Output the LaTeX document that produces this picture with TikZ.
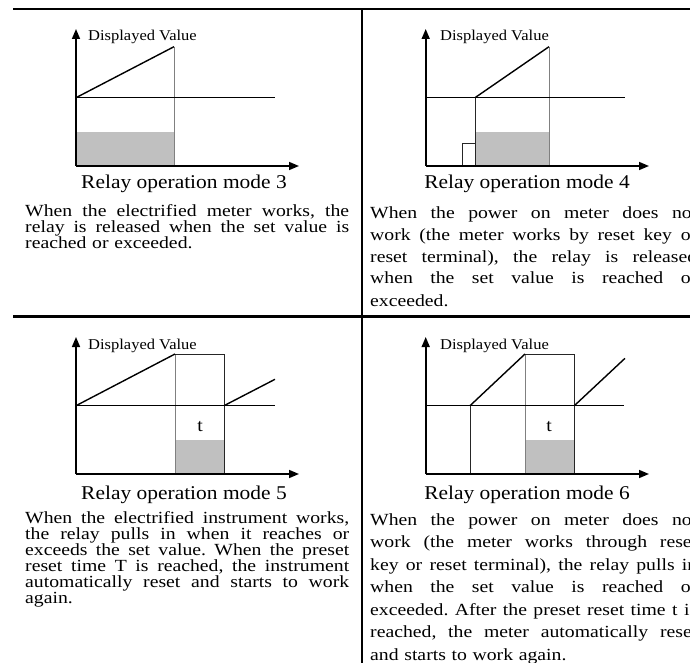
\documentclass[tikz,border=0pt]{standalone}
\usepackage{fontspec}
\setmainfont{Liberation Serif}
\newfontfamily\bodyf{Liberation Serif}[FakeStretch=1.1]
\newfontfamily\textf{Liberation Serif}[FakeStretch=1.16]
\usetikzlibrary{arrows.meta}
\lineskiplimit=-20pt
\newlength\colw
\setlength\colw{324pt}
\newcommand\jline[1]{\leavevmode\hbox to \colw{\frenchspacing\spaceskip=.25em plus 1fil\relax #1}}
\newcommand\lastline[1]{\leavevmode\hbox to \colw{#1\hfil}}
\definecolor{barfill}{HTML}{C0C0C0}
\definecolor{thingray}{HTML}{808080}
\tikzset{
  axis/.style={line width=1.6pt,-{Triangle[length=10pt,width=8pt]}},
  curve/.style={line width=1.4pt},
  thinline/.style={line width=0.9pt,black!85},
  grayline/.style={line width=0.9pt,thingray},
  bar/.style={fill=barfill,draw=none},
  rule/.style={line width=2.4pt},
  ylabel/.style={anchor=west,inner sep=0,font=\bodyf\fontsize{15}{15}\selectfont},
  caption/.style={anchor=base,inner sep=0,font=\bodyf\fontsize{19.5}{20}\selectfont},
  body/.style={anchor=base west,inner sep=0,text width=\colw,align=left,font=\textf\fontsize{17}{16}\selectfont},
  bodyr/.style={body,font=\textf\fontsize{17}{#1}\selectfont,text width=327pt},
  tmark/.style={inner sep=0,font=\bodyf\fontsize{18}{18}\selectfont}
}
\begin{document}
\begin{tikzpicture}[x=1pt,y=-1pt]
\useasboundingbox (0,0) rectangle (690,663);
\clip (0,0) rectangle (690,663);
% table rules
\coordinate (tl) at (13,9); \coordinate (tr) at (690,9);
\coordinate (ml) at (13,316.5); \coordinate (mr) at (690,316.5);
\coordinate (vt) at (362,9); \coordinate (vb) at (362,663);
\draw[rule] (tl) -- (tr);
\draw[rule] (ml) -- (mr);
\draw[rule] (vt) -- (vb);

% ---------- mode 3 ----------
\fill[bar] (76,132) rectangle (174,166);
\coordinate (o3) at (76,166);
\draw[grayline] (174,46.7) -- (174,166);
\draw[curve] (76,97.7) -- (275,97.7);
\draw[curve] (76,97.7) -- (174,46.7);
\draw[axis] (o3) -- (76,29);
\draw[axis] (o3) -- (299,166);
\node[ylabel] (l3) at (88,37) {Displayed Value};
\node[caption] (c3) at (184,189) {Relay operation mode 3};
\node[body] (b3) at (25,216) {\jline{When the electrified meter works, the}\\\jline{relay is released when the set value is}\\\lastline{reached or exceeded.}};

% ---------- mode 4 ----------
\fill[bar] (475,132) rectangle (549,166);
\coordinate (o4) at (425.7,166);
\draw[thinline] (462.3,166) -- (462.3,143.3) -- (475,143.3);
\draw[thinline] (475,97.7) -- (475,166);
\draw[grayline] (549,46.7) -- (549,166);
\draw[curve] (425.7,97.7) -- (625,97.7);
\draw[curve] (475,97.7) -- (549,46.7);
\draw[axis] (o4) -- (425.7,29);
\draw[axis] (o4) -- (649,166);
\node[ylabel] (l4) at (440,37) {Displayed Value};
\node[caption] (c4) at (527,189) {Relay operation mode 4};
\begingroup\setlength\colw{327pt}
\node[bodyr=22] (b4) at (370,218) {\jline{When the power on meter does not}\\\jline{work (the meter works by reset key or}\\\jline{reset terminal), the relay is released}\\\jline{when the set value is reached or}\\\lastline{exceeded.}};
\endgroup

% ---------- mode 5 ----------
\fill[bar] (175,440) rectangle (224,474);
\coordinate (o5) at (76,474);
\draw[grayline] (175,354) -- (175,474);
\draw[thinline] (175,354) -- (224,354) -- (224,474);
\draw[curve] (76,405.7) -- (275,405.7);
\draw[curve] (76,405.7) -- (175,354);
\draw[curve] (224,405.7) -- (275,379.3);
\draw[axis] (o5) -- (76,337);
\draw[axis] (o5) -- (299,474);
\node[tmark] (t5) at (200,427) {t};
\node[ylabel] (l5) at (88,346) {Displayed Value};
\node[caption] (c5) at (184,499) {Relay operation mode 5};
\node[body] (b5) at (25,523) {\jline{When the electrified instrument works,}\\\jline{the relay pulls in when it reaches or}\\\jline{exceeds the set value. When the preset}\\\jline{reset time T is reached, the instrument}\\\jline{automatically reset and starts to work}\\\lastline{again.}};

% ---------- mode 6 ----------
\fill[bar] (525,440) rectangle (574.3,474);
\coordinate (o6) at (425.7,474);
\draw[thinline] (470,405.7) -- (470,474);
\draw[grayline] (525,354) -- (525,474);
\draw[thinline] (525,354) -- (574.3,354) -- (574.3,474);
\draw[curve] (425.7,405.7) -- (624,405.7);
\draw[curve] (470,405.7) -- (525,354);
\draw[curve] (574.3,405.7) -- (625,358.3);
\draw[axis] (o6) -- (425.7,337);
\draw[axis] (o6) -- (649,474);
\node[tmark] (t6) at (549,427) {t};
\node[ylabel] (l6) at (440,346) {Displayed Value};
\node[caption] (c6) at (527,499) {Relay operation mode 6};
\begingroup\setlength\colw{327pt}
\node[bodyr=22.5] (b6) at (370,525) {\jline{When the power on meter does not}\\\jline{work (the meter works through reset}\\\jline{key or reset terminal), the relay pulls in}\\\jline{when the set value is reached or}\\\jline{exceeded. After the preset reset time t is}\\\jline{reached, the meter automatically reset}\\\lastline{and starts to work again.}};
\endgroup
\end{tikzpicture}
\end{document}
